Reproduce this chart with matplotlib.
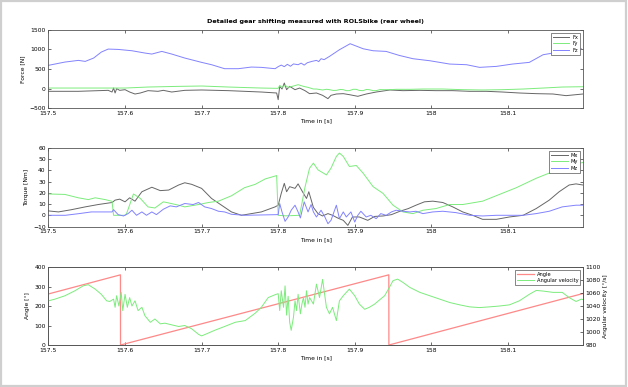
import matplotlib
matplotlib.use("Agg")
import matplotlib.pyplot as plt
from matplotlib.patches import Rectangle

# ---------------- data ----------------
t_fx = [157.5, 157.539, 157.578, 157.583, 157.585, 157.587, 157.589, 157.593, 157.6, 157.606, 157.613, 157.62,
        157.63, 157.643, 157.65, 157.661, 157.678, 157.7, 157.735, 157.778, 157.798, 157.8, 157.802, 157.805,
        157.808, 157.811, 157.815, 157.822, 157.828, 157.835, 157.841, 157.85, 157.858, 157.865, 157.869, 157.876,
        157.885, 157.893, 157.904, 157.915, 157.928, 157.946, 157.963, 157.985, 158.006, 158.028, 158.05, 158.072,
        158.093, 158.115, 158.137, 158.159, 158.176, 158.189, 158.198]
fx = [-72, -72, -47, -90, 12, -115, -4, -47, -30, -90, -141, -115, -55, -72, -47, -90, -47, -38, -55, -90, -115,
      -286, 55, -13, 141, -30, 55, -30, 12, -55, -132, -115, -175, -260, -175, -141, -132, -158, -200, -141, -90,
      -38, -55, -47, -55, -55, -72, -72, -90, -115, -132, -141, -183, -158, -141]

t_fy = [157.5, 157.55, 157.6, 157.63, 157.67, 157.7, 157.735, 157.778, 157.8, 157.802, 157.805, 157.809, 157.813,
        157.82, 157.826, 157.833, 157.839, 157.846, 157.85, 157.858, 157.863, 157.867, 157.872, 157.876, 157.881,
        157.885, 157.889, 157.893, 157.898, 157.902, 157.906, 157.911, 157.915, 157.919, 157.924, 157.928, 157.933,
        157.937, 157.946, 157.954, 157.972, 157.989, 158.015, 158.041, 158.067, 158.093, 158.12, 158.146, 158.171,
        158.198]
fy = [12, 12, 12, 38, 55, 64, 38, 12, 4, 81, 29, 81, 29, 64, 98, 55, 29, -13, -13, -38, -20, -30, -50, -47, -25,
      -30, -55, -55, -20, -21, -50, -55, -25, -30, -55, -55, -28, -30, -30, -21, -21, -13, -13, -30, -38, -30, -13,
      12, 38, 46]

t_fz = [157.5, 157.5215, 157.539, 157.548, 157.559, 157.569, 157.578, 157.591, 157.609, 157.626, 157.635, 157.648,
        157.661, 157.678, 157.7, 157.713, 157.73, 157.748, 157.765, 157.778, 157.796, 157.8, 157.804, 157.808,
        157.812, 157.816, 157.82, 157.826, 157.83, 157.834, 157.838, 157.844, 157.85, 157.853, 157.856, 157.86,
        157.867, 157.88, 157.894, 157.911, 157.924, 157.941, 157.958, 157.976, 157.998, 158.024, 158.046, 158.063,
        158.085, 158.106, 158.128, 158.146, 158.164, 158.18, 158.196]
fz = [594, 678, 721, 695, 781, 934, 1011, 1002, 968, 909, 883, 951, 883, 781, 670, 610, 508, 508, 550, 542, 508,
      560, 600, 560, 620, 570, 630, 610, 650, 600, 660, 695, 721, 690, 764, 740, 823, 994, 1148, 1019, 968, 951,
      849, 764, 712, 627, 610, 542, 567, 627, 670, 866, 926, 934, 1019]

t_mx = [157.5, 157.513, 157.53, 157.548, 157.565, 157.583, 157.587, 157.593, 157.6, 157.606, 157.613, 157.622,
        157.635, 157.646, 157.657, 157.67, 157.678, 157.687, 157.7, 157.713, 157.726, 157.739, 157.752, 157.765,
        157.778, 157.796, 157.8, 157.804, 157.808, 157.811, 157.815, 157.822, 157.826, 157.833, 157.837, 157.84,
        157.846, 157.852, 157.858, 157.865, 157.871, 157.878, 157.885, 157.891, 157.897, 157.906, 157.917, 157.926,
        157.937, 157.948, 157.959, 157.97, 157.98, 157.991, 158.002, 158.015, 158.028, 158.041, 158.054, 158.067,
        158.085, 158.102, 158.12, 158.137, 158.154, 158.167, 158.18, 158.189, 158.198]
mx = [3.9, 3, 5, 7.5, 9.6, 11.4, 13.5, 14.4, 12, 15.6, 12.6, 21, 25, 22, 22.5, 27, 29, 27.6, 24, 15, 9, 3, 0, 1.5,
      3, 7.5, 9, 19.5, 28.5, 21, 25.5, 24, 28, 19.5, 15, 21, 7, 1.5, -0.6, 1.5, 0, -2.5, -4.5, -9, -1.5, -1.5, -4.5,
      -1, -0.6, 0.6, 3.6, 6, 9, 12, 12.6, 11.4, 7.5, 3, 0, -3.6, -3.6, -1.5, 0, 6, 13.5, 21, 27, 28, 27]

t_my = [157.5, 157.5215, 157.539, 157.552, 157.561, 157.574, 157.583, 157.585, 157.59, 157.6, 157.602, 157.611,
        157.62, 157.63, 157.639, 157.65, 157.657, 157.67, 157.678, 157.696, 157.709, 157.722, 157.739, 157.756,
        157.77, 157.783, 157.798, 157.8, 157.81, 157.828, 157.835, 157.841, 157.846, 157.852, 157.863, 157.869,
        157.876, 157.88, 157.885, 157.893, 157.902, 157.911, 157.924, 157.937, 157.95, 157.963, 157.976, 157.989,
        158.006, 158.024, 158.041, 158.067, 158.089, 158.111, 158.137, 158.159, 158.176, 158.193, 158.198]
my = [19, 18.6, 15.6, 14, 15.6, 14, 12.5, 0, 0, 0, 1.5, 19, 15, 7.5, 6.5, 12, 11, 9, 7.5, 9.6, 11.4, 12.6, 17.4,
      24.6, 27.6, 32.4, 35.4, 0, -0.5, 0, 25, 42, 46.5, 40.5, 36, 42, 52.5, 55.5, 52.5, 43.5, 44.4, 37.5, 25.5,
      19.5, 9, 3, 1.5, 4.5, 6, 9.6, 9.6, 12.6, 18.6, 24.6, 33, 39, 43.5, 46.5, 47]

t_mz = [157.5, 157.522, 157.54, 157.556, 157.583, 157.585, 157.591, 157.598, 157.604, 157.609, 157.615, 157.622,
        157.628, 157.635, 157.641, 157.65, 157.659, 157.667, 157.678, 157.689, 157.696, 157.704, 157.713, 157.722,
        157.73, 157.739, 157.756, 157.8, 157.802, 157.805, 157.809, 157.813, 157.817, 157.822, 157.826, 157.829,
        157.834, 157.839, 157.843, 157.846, 157.85, 157.856, 157.861, 157.865, 157.869, 157.876, 157.88, 157.885,
        157.889, 157.895, 157.9, 157.904, 157.908, 157.915, 157.921, 157.928, 157.934, 157.941, 157.948, 157.954,
        157.963, 157.972, 157.98, 157.989, 158.002, 158.015, 158.032, 158.05, 158.067, 158.085, 158.102, 158.12,
        158.137, 158.154, 158.171, 158.189, 158.198]
mz = [0, 0, 1.5, 3, 3, 5, 0.6, -0.6, 1.5, 4.5, 0, 3, 0, 3, 0.6, 5.4, 8.4, 7.5, 10.5, 9.6, 11.4, 7.5, 6, 3.6, 3,
      0.9, 0, 0.6, 10.5, 3, -5.4, -1.5, 4.5, 9, 3, -2.4, 12, 3, 9.6, 3, -1.5, 4.5, -1.5, -7.5, -4.5, 9, -3, 3,
      -1.5, 3, -6, 0, 3.6, -1.5, 0, -3, 1.5, 0, 3, 4.5, 3.6, 3, 3.6, 1.5, 3, 3.6, 2.4, 0, -0.6, 0, 0, 0, 1.5, 3.6,
      7.5, 9, 9]

t_angle = [157.5, 157.594, 157.5941, 157.9445, 157.9446, 158.198]
angle = [262, 360, 0, 360, 0, 264]

t_omega = [157.5, 157.5085, 157.5215, 157.5346, 157.5455, 157.552, 157.561, 157.569, 157.576, 157.58, 157.585,
           157.587, 157.589, 157.592, 157.595, 157.597, 157.6, 157.603, 157.606, 157.609, 157.613, 157.617, 157.622,
           157.626, 157.633, 157.639, 157.646, 157.652, 157.661, 157.67, 157.678, 157.687, 157.696, 157.7, 157.707,
           157.717, 157.73, 157.744, 157.757, 157.77, 157.778, 157.787, 157.796, 157.8, 157.802, 157.804, 157.807,
           157.809, 157.811, 157.813, 157.815, 157.817, 157.82, 157.822, 157.824, 157.826, 157.829, 157.831,
           157.833, 157.835, 157.837, 157.839, 157.841, 157.846, 157.85, 157.854, 157.858, 157.863, 157.867,
           157.871, 157.876, 157.88, 157.885, 157.889, 157.893, 157.9, 157.906, 157.913, 157.919, 157.926, 157.932,
           157.939, 157.944, 157.95, 157.956, 157.963, 157.972, 157.985, 157.998, 158.011, 158.024, 158.037,
           158.05, 158.063, 158.076, 158.089, 158.102, 158.115, 158.128, 158.137, 158.146, 158.159, 158.171,
           158.18, 158.189, 158.196, 158.198]
omega = [1048, 1050.6, 1055.8, 1063.5, 1071.2, 1072.8, 1066, 1058, 1048, 1047, 1050.6, 1038, 1055.8, 1040, 1061,
         1033, 1058, 1038, 1053, 1040, 1048, 1033, 1038, 1025, 1015, 1020, 1012.6, 1013.6, 1011, 1008.5, 1010,
         1005, 996.4, 994, 997.5, 1002.6, 1008.5, 1015, 1017.6, 1029, 1038, 1053, 1057.4, 1059, 1033, 1063.5,
         1038, 1071, 1026, 1055, 1015, 1002.6, 1023, 1048, 1033, 1058, 1028, 1043, 1053, 1038, 1063.5, 1043, 1053,
         1043, 1073.7, 1053, 1081, 1038, 1028, 1038, 1017.6, 1048, 1055.8, 1061, 1066, 1055.8, 1043, 1035, 1038,
         1043, 1049, 1055.8, 1066, 1079, 1081.4, 1076.3, 1068.6, 1061, 1055.8, 1050.6, 1045.4, 1041.8, 1038.7,
         1037.6, 1038.7, 1040, 1041.8, 1048, 1058, 1064, 1063, 1061, 1061, 1053, 1047, 1050.6, 1050]

x_ticks = [157.5, 157.6, 157.7, 157.8, 157.9, 158.0, 158.1]
x_ticklabels = ["157.5", "157.6", "157.7", "157.8", "157.9", "158", "158.1"]
x_limits = (157.5, 158.198)

# ---------------- style ----------------
C_GREY = "#666666"
C_GREEN = "#7cec7c"
C_BLUE = "#8282ff"
C_RED = "#ff8888"
LW = 0.7
FS = 4.3

fig = plt.figure(figsize=(6.28, 3.87), dpi=100)
fig.patch.set_facecolor("white")
fig.patches.append(Rectangle((0.0015, 0.0025), 0.9955, 0.994, transform=fig.transFigure,
                             fill=False, edgecolor="#cfcfcf", linewidth=1.6))

L, W = 0.0772, 0.851
ax1 = fig.add_axes([L, 0.7209, W, 0.2016])
ax2 = fig.add_axes([L, 0.4147, W, 0.2029])
ax3 = fig.add_axes([L, 0.1085, W, 0.2015])

LEG = dict(loc="upper right", fontsize=3.7, handlelength=3.2, frameon=True, fancybox=False,
           edgecolor="#555555", framealpha=1, borderpad=0.4, labelspacing=0.3, handletextpad=0.6,
           borderaxespad=0.5)


def style(ax, right=True):
    ax.set_xlim(*x_limits)
    ax.set_xticks(x_ticks)
    ax.set_xticklabels(x_ticklabels)
    ax.tick_params(direction="in", length=2.5, width=0.5, labelsize=FS, pad=2,
                   top=True, right=right, colors="#333333", labelcolor="black")
    for s in ax.spines.values():
        s.set_linewidth(0.6)
        s.set_color("#555555")
    ax.set_xlabel("Time in [s]", fontsize=FS, labelpad=2)


# Forces
ax1.plot(t_fx, fx, color=C_GREY, lw=LW, label="Fx")
ax1.plot(t_fy, fy, color=C_GREEN, lw=LW, label="Fy")
ax1.plot(t_fz, fz, color=C_BLUE, lw=LW, label="Fz")
ax1.set_ylim(-500, 1500)
ax1.set_yticks([-500, 0, 500, 1000, 1500])
style(ax1)
ax1.set_ylabel("Force [N]", fontsize=FS, labelpad=3)
ax1.legend(**LEG).get_frame().set_linewidth(0.5)
ax1.set_title("Detailed gear shifting measured with ROLSbike (rear wheel)", fontsize=4.6,
              fontweight="bold", pad=5)

# Torques
ax2.plot(t_mx, mx, color=C_GREY, lw=LW, label="Mx")
ax2.plot(t_my, my, color=C_GREEN, lw=LW, label="My")
ax2.plot(t_mz, mz, color=C_BLUE, lw=LW, label="Mz")
ax2.set_ylim(-10, 60)
ax2.set_yticks([-10, 0, 10, 20, 30, 40, 50, 60])
style(ax2)
ax2.set_ylabel("Torque [Nm]", fontsize=FS, labelpad=3)
ax2.legend(**LEG).get_frame().set_linewidth(0.5)

# Angle / angular velocity
l1, = ax3.plot(t_angle, angle, color=C_RED, lw=0.9, label="Angle")
ax3.set_ylim(0, 400)
ax3.set_yticks([0, 100, 200, 300, 400])
style(ax3, right=False)
ax3.set_ylabel("Angle [°]", fontsize=FS, labelpad=3)
ax3b = ax3.twinx()
l2, = ax3b.plot(t_omega, omega, color=C_GREEN, lw=LW, label="Angular velocity")
ax3b.set_ylim(980, 1100)
ax3b.set_yticks([980, 1000, 1020, 1040, 1060, 1080, 1100])
ax3b.set_xlim(*x_limits)
ax3b.tick_params(direction="in", length=2.5, width=0.5, labelsize=FS, pad=2, colors="#333333",
                 labelcolor="black")
for s in ax3b.spines.values():
    s.set_linewidth(0.6)
    s.set_color("#555555")
ax3b.set_ylabel("Angular velocity [°/s]", fontsize=FS, labelpad=1.5, rotation=90)
ax3b.legend([l1, l2], ["Angle", "Angular velocity"], **LEG).get_frame().set_linewidth(0.5)

fig.savefig("out.png", dpi=100, facecolor="white")
